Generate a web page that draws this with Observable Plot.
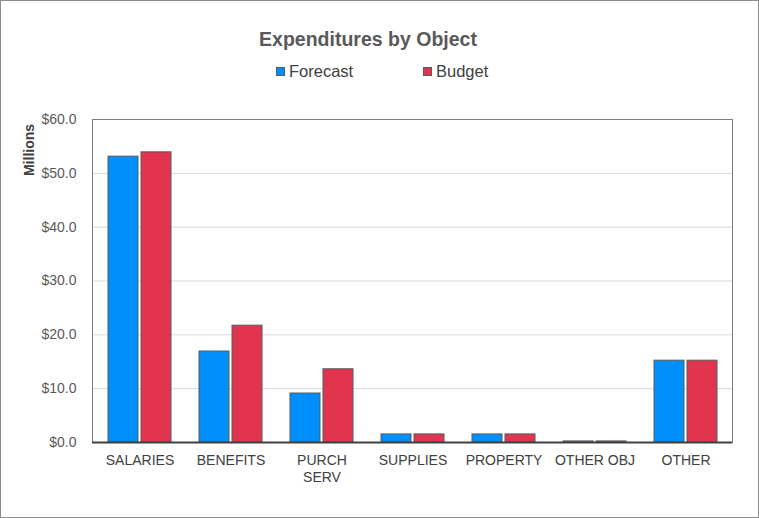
<!DOCTYPE html>
<html><head><meta charset="utf-8">
<script src="https://cdn.jsdelivr.net/npm/d3@7"></script>
<script src="https://cdn.jsdelivr.net/npm/@observablehq/plot@0.6"></script>
<style>
body{margin:0;background:#fff;font-family:"Liberation Sans",Arial,sans-serif;}
#box{position:relative;width:757px;height:516px;border:1px solid #8c8c8c;background:#fff;overflow:hidden;}
#title{position:absolute;left:0;width:734px;top:27px;text-align:center;font-weight:bold;font-size:19.5px;color:#595959;line-height:22px;}
.item{position:absolute;top:60px;display:flex;align-items:center;font-size:16.5px;color:#404040;line-height:20px;}
.sw{width:9px;height:9px;border:1px solid #595959;margin-right:4px;box-sizing:border-box;}
#ylab{position:absolute;left:28px;top:149px;transform:translate(-50%,-50%) rotate(-90deg);font-weight:bold;font-size:14px;color:#404040;white-space:nowrap;}
#chart{position:absolute;left:0;top:94px;}
</style></head>
<body>
<div id="box">
  <div id="title">Expenditures by Object</div>
  <div id="ylab">Millions</div>
  <div id="chart"></div>
</div>
<script>
const categories = ["SALARIES","BENEFITS","PURCH SERV","SUPPLIES","PROPERTY","OTHER OBJ","OTHER"];
const tickLabels = ["SALARIES","BENEFITS","PURCH\nSERV","SUPPLIES","PROPERTY","OTHER OBJ","OTHER"];
const series = ["Forecast","Budget"];
const forecast = [53.1, 16.9, 9.1, 1.5, 1.5, 0.2, 15.2];
const budget   = [53.9, 21.7, 13.6, 1.5, 1.5, 0.2, 15.2];
const colors = ["#008ffb", "#e0344f"];
const yTicks = [0,10,20,30,40,50,60];

const rows = categories.flatMap((c,i)=>[
  {category:c, series:"Forecast", value:forecast[i]},
  {category:c, series:"Budget", value:budget[i]}
]);

const box = document.getElementById("box");
const legendLeft = [275, 422];
series.forEach((s,i)=>{
  const d = document.createElement("div");
  d.className="item";
  d.style.left = legendLeft[i] + "px";
  d.innerHTML = `<div class="sw" style="background:${colors[i]}"></div><span>${s}</span>`;
  box.appendChild(d);
});

const W = 757, H = 422;
const plot = Plot.plot({
  width: W, height: H,
  marginTop: 24, marginBottom: 75, marginLeft: 91, marginRight: 26,
  style: {fontFamily: '"Liberation Sans", Arial, sans-serif', fontSize: "14px", color: "#404040", background: "transparent"},
  x: {domain: categories, paddingInner: 0.31, paddingOuter: 0.155},
  y: {domain: [0,60]},
  color: {domain: series, range: colors},
  marks: [
    Plot.gridY(yTicks, {stroke:"#d9d9d9", strokeOpacity:1}),
    Plot.barY(rows.filter(d=>d.series==="Forecast"), {x:"category", y:"value", fill:"series", stroke:"#5a5a5a", strokeWidth:1, insetRight:33}),
    Plot.barY(rows.filter(d=>d.series==="Budget"), {x:"category", y:"value", fill:"series", stroke:"#5a5a5a", strokeWidth:1, insetLeft:33}),
    Plot.frame({stroke:"#7f7f7f"}),
    Plot.ruleY([0], {stroke:"#404040", strokeWidth:2}),
    Plot.axisX({tickSize:0, tickPadding:11, lineHeight:1.2, fontSize:14, fill:"#404040", label:null,
      tickFormat:(d)=>tickLabels[categories.indexOf(d)]}),
    Plot.axisY(yTicks, {tickSize:0, tickPadding:16, fontSize:14, fill:"#595959", label:null,
      tickFormat:d=>"$"+d.toFixed(1)})
  ]
});
document.getElementById("chart").appendChild(plot);
</script>
</body></html>
